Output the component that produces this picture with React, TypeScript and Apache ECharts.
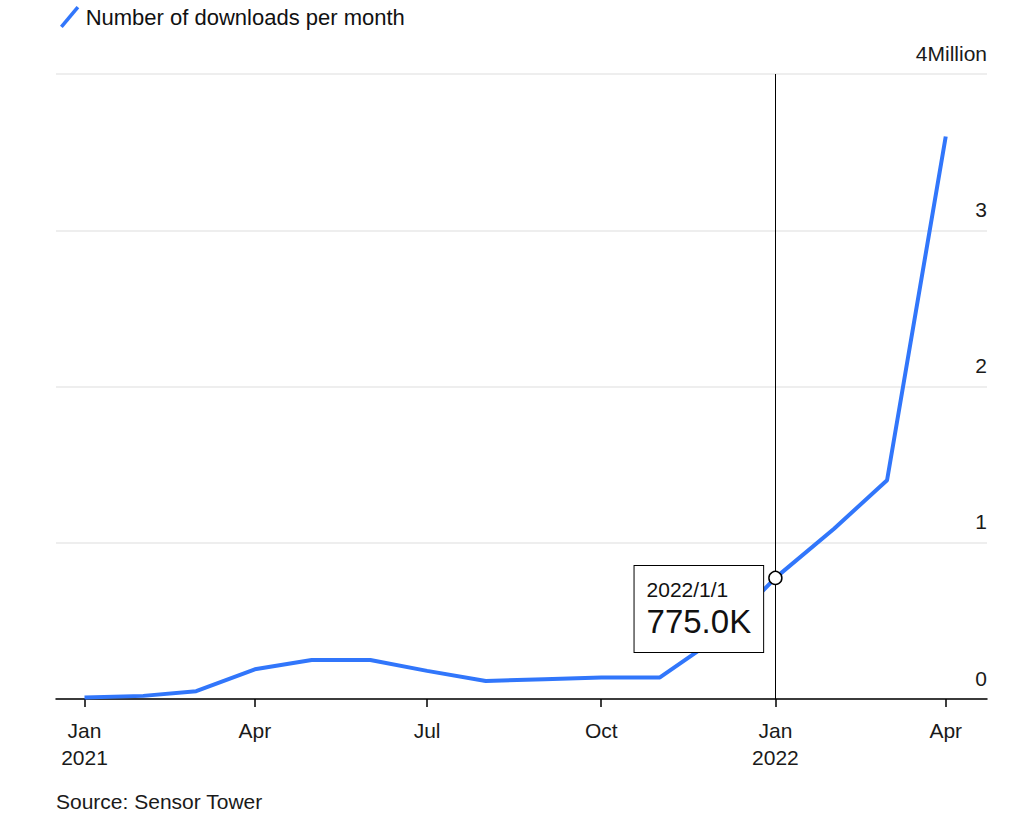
import { useEffect, useRef } from "react";
import * as echarts from "echarts";

// ---- data ----
const seriesName = "Number of downloads per month";
const months = [
  "2021-01-01", "2021-02-01", "2021-03-01", "2021-04-01", "2021-05-01", "2021-06-01",
  "2021-07-01", "2021-08-01", "2021-09-01", "2021-10-01", "2021-11-01", "2021-12-01",
  "2022-01-01", "2022-02-01", "2022-03-01", "2022-04-01",
];
// downloads in millions
const downloads = [
  0.01, 0.02, 0.05, 0.19, 0.25, 0.25,
  0.18, 0.115, 0.127, 0.138, 0.138, 0.39,
  0.775, 1.09, 1.4, 3.6,
];
const tickDates = ["2021-01-01", "2021-04-01", "2021-07-01", "2021-10-01", "2022-01-01", "2022-04-01"];
const tickLabels = ["Jan\n2021", "Apr", "Jul", "Oct", "Jan\n2022", "Apr"];
const yTicks = [0, 1, 2, 3, 4];
const yTickLabels = ["0", "1", "2", "3", "4Million"];
const highlightIndex = 12;
const sourceText = "Source: Sensor Tower";

const FONT = "'Liberation Sans', Arial, Helvetica, sans-serif";
const BLUE = "#3176fb";
const DAY = 86400000;

const toTs = (s: string) => {
  const [y, m, d] = s.split("-").map(Number);
  return Date.UTC(y, m - 1, d);
};
const fmtDate = (s: string) => {
  const [y, m, d] = s.split("-").map(Number);
  return `${y}/${m}/${d}`;
};
const fmtValue = (v: number) => `${(v * 1000).toFixed(1)}K`;

export default function App() {
  const ref = useRef<HTMLDivElement>(null);

  useEffect(() => {
    if (!ref.current) return;
    const chart = echarts.init(ref.current, undefined, { renderer: "svg" });

    const seriesData = months.map((m, i) => [toTs(m), downloads[i]]);
    const tickTs = tickDates.map(toTs);
    const hlTs = toTs(months[highlightIndex]);
    const hlVal = downloads[highlightIndex];

    chart.setOption({
      animation: false,
      textStyle: { fontFamily: FONT },
      legend: {
        show: true,
        data: [seriesName],
        left: 55,
        top: 1,
        icon: "path://M2,19 L17,1 L19.5,3 L4.5,21 Z",
        itemWidth: 22,
        itemHeight: 22,
        itemStyle: { color: BLUE, borderWidth: 0 },
        textStyle: { fontSize: 22, color: "#111", fontFamily: FONT, padding: [0, 0, 0, 0] },
        selectedMode: false,
      },
      grid: {
        left: 56,
        right: 37,
        top: 74,
        bottom: 131,
        containLabel: false,
        outerBoundsMode: "none",
      },
      xAxis: {
        type: "value",
        min: toTs(months[0]) - 15.06 * DAY,
        max: toTs(months[months.length - 1]) + 21.8 * DAY,
        axisLine: { show: true, onZero: false, lineStyle: { color: "#000", width: 1.5 } },
        axisTick: {
          show: true,
          customValues: tickTs,
          length: 8,
          lineStyle: { color: "#000", width: 1.5 },
        },
        splitLine: { show: false },
        axisLabel: {
          show: true,
          customValues: tickTs,
          formatter: (v: number) => {
            const i = tickTs.indexOf(v);
            return i >= 0 ? tickLabels[i] : "";
          },
          fontSize: 21,
          lineHeight: 27,
          margin: 18,
          color: "#1a1a1a",
          fontFamily: FONT,
          hideOverlap: false,
          showMinLabel: true,
          showMaxLabel: true,
        },
      },
      yAxis: {
        type: "value",
        position: "right",
        min: 0,
        max: 4,
        interval: 1,
        axisLine: { show: false },
        axisTick: { show: false },
        splitLine: { show: true, lineStyle: { color: "#e8e8e8", width: 1.5 } },
        axisLabel: {
          inside: true,
          margin: 0,
          align: "right",
          verticalAlign: "bottom",
          lineHeight: 42,
          fontSize: 21,
          color: "#1a1a1a",
          fontFamily: FONT,
          formatter: (v: number) => {
            const i = yTicks.indexOf(v);
            return i >= 0 ? yTickLabels[i] : "";
          },
        },
      },
      series: [
        {
          name: seriesName,
          type: "line",
          data: seriesData,
          showSymbol: false,
          symbol: "none",
          lineStyle: { color: BLUE, width: 4 },
          itemStyle: { color: BLUE },
          emphasis: { disabled: true },
          silent: true,
          markLine: {
            silent: true,
            symbol: ["none", "none"],
            label: { show: false },
            lineStyle: { color: "#000", width: 1, type: "solid" },
            emphasis: { disabled: true },
            data: [{ xAxis: hlTs }],
          },
          markPoint: {
            silent: true,
            symbol: "circle",
            symbolSize: 13,
            itemStyle: { color: "#fff", borderColor: "#000", borderWidth: 1.5 },
            emphasis: { disabled: true },
            label: {
              show: true,
              position: "left",
              distance: 5,
              offset: [0, 31],
              backgroundColor: "#fff",
              borderColor: "#000",
              borderWidth: 1,
              padding: [11, 12, 11, 12],
              formatter: () => `{d|${fmtDate(months[highlightIndex])}}\n{v|${fmtValue(hlVal)}}`,
              rich: {
                d: { fontSize: 21, lineHeight: 26, color: "#111", fontFamily: FONT, align: "left" },
                v: { fontSize: 33, lineHeight: 38, color: "#111", fontFamily: FONT, align: "left" },
              },
            },
            data: [{ coord: [hlTs, hlVal], value: hlVal }],
          },
        },
      ],
      graphic: [
        {
          type: "text",
          left: 56,
          top: 791,
          style: { text: sourceText, fontSize: 21, fill: "#1a1a1a", fontFamily: FONT },
        },
      ],
    });

    return () => chart.dispose();
  }, []);

  return (
    <div
      ref={ref}
      style={{ position: "fixed", left: 0, top: 0, width: 1024, height: 830, background: "#fff" }}
    />
  );
}
